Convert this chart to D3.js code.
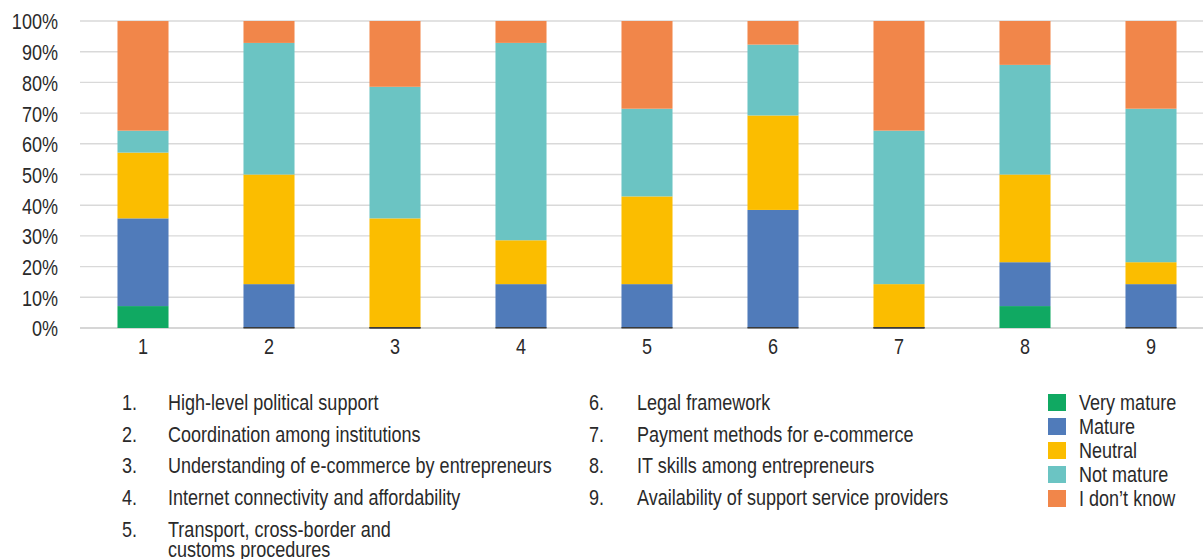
<!DOCTYPE html>
<html>
<head>
<meta charset="utf-8">
<script src="https://cdn.jsdelivr.net/npm/d3@7"></script>
<style>
  html, body { margin: 0; padding: 0; background: #fff; overflow: hidden; }
  svg { display: block; }
  text { font-family: "Liberation Sans", Arial, sans-serif; fill: #2a2a2a; }
</style>
</head>
<body>
<svg id="chart" width="1203" height="559"></svg>
<script>
// Survey pillars (x-axis categories, numbered)
const categories = ["1", "2", "3", "4", "5", "6", "7", "8", "9"];

// Share of responses (%) per maturity level, one value per pillar
const veryMature = [7.14, 0, 0, 0, 0, 0, 0, 7.14, 0];
const mature     = [28.57, 14.29, 0, 14.29, 14.29, 38.46, 0, 14.29, 14.29];
const neutral    = [21.43, 35.71, 35.71, 14.29, 28.57, 30.77, 14.29, 28.57, 7.14];
const notMature  = [7.14, 42.86, 42.86, 64.29, 28.57, 23.08, 50.0, 35.71, 50.0];
const dontKnow   = [35.71, 7.14, 21.43, 7.14, 28.57, 7.69, 35.71, 14.29, 28.57];

const seriesNames  = ["Very mature", "Mature", "Neutral", "Not mature", "I don\u2019t know"];
const seriesColors = ["#10a962", "#507bba", "#fbbd00", "#6bc4c3", "#f1864a"];

const yTicks = [0, 10, 20, 30, 40, 50, 60, 70, 80, 90, 100];

// Pillar descriptions listed below the chart
const pillarNumbers = ["1.", "2.", "3.", "4.", "5.", "6.", "7.", "8.", "9."];
const pillarLabels = [
  ["High-level political support"],
  ["Coordination among institutions"],
  ["Understanding of e-commerce by entrepreneurs"],
  ["Internet connectivity and affordability"],
  ["Transport, cross-border and", "customs procedures"],
  ["Legal framework"],
  ["Payment methods for e-commerce"],
  ["IT skills among entrepreneurs"],
  ["Availability of support service providers"]
];

// Horizontal squeeze giving the narrow typeface look
const NARROW = 0.82;
const FONT_SIZE = 22;

const seriesValues = [veryMature, mature, neutral, notMature, dontKnow];
const rows = categories.map((c, i) => {
  const r = { cat: c };
  seriesNames.forEach((s, k) => { r[s] = seriesValues[k][i]; });
  return r;
});

const svg = d3.select("#chart");
const plot = { left: 80, right: 1214, top: 21, bottom: 328 };

const x = d3.scaleBand()
  .domain(categories)
  .range([plot.left, plot.right])
  .paddingInner(0.595)
  .paddingOuter(0.2975);

const y = d3.scaleLinear().domain([0, 100]).range([plot.bottom, plot.top]);

const stacked = d3.stack().keys(seriesNames)(rows);

// Places a narrow text with its anchor point at (px, py)
function narrowText(parent, px, py, str, anchor) {
  return parent.append("text")
    .attr("transform", `translate(${px},${py}) scale(${NARROW},1)`)
    .attr("font-size", FONT_SIZE)
    .attr("text-anchor", anchor || "start")
    .text(str);
}

// Gridlines
svg.append("g")
  .selectAll("line")
  .data(yTicks)
  .join("line")
  .attr("x1", plot.left)
  .attr("x2", plot.right)
  .attr("y1", d => y(d))
  .attr("y2", d => y(d))
  .attr("stroke", d => d === 0 ? "#c9c9c9" : "#d9d9d9")
  .attr("stroke-width", 1.4);

// Y axis labels
const yAxis = d3.axisLeft(y)
  .tickValues(yTicks)
  .tickFormat(d => d + "%")
  .tickSize(0)
  .tickPadding(0);
const yg = svg.append("g")
  .attr("transform", `translate(${58},0)`)
  .call(yAxis);
yg.select(".domain").remove();
yg.selectAll("text")
  .attr("font-size", FONT_SIZE)
  .attr("font-family", null)
  .attr("x", 0)
  .attr("dy", "0.36em")
  .attr("transform", `scale(${NARROW},1)`);

// Stacked bars
const layers = svg.append("g")
  .selectAll("g")
  .data(stacked)
  .join("g")
  .attr("fill", (d, i) => seriesColors[i]);

layers.selectAll("rect")
  .data(d => d.filter(p => p[1] - p[0] > 0))
  .join("rect")
  .attr("x", d => x(d.data.cat))
  .attr("width", x.bandwidth())
  .attr("y", d => y(d[1]))
  .attr("height", d => y(d[0]) - y(d[1]));

// Empty segments resting on the baseline leave a thin dark edge
svg.append("g")
  .selectAll("line")
  .data(stacked.flatMap(s => s.filter(p => p[1] - p[0] === 0 && p[0] === 0)))
  .join("line")
  .attr("x1", d => x(d.data.cat))
  .attr("x2", d => x(d.data.cat) + x.bandwidth())
  .attr("y1", d => y(0) - 0.3)
  .attr("y2", d => y(0) - 0.3)
  .attr("stroke", "#3a3a3a")
  .attr("stroke-width", 1.5);

// X axis labels
const xAxis = d3.axisBottom(x).tickSize(0).tickPadding(0);
const xg = svg.append("g")
  .attr("transform", `translate(0,${plot.bottom})`)
  .call(xAxis);
xg.select(".domain").remove();
xg.selectAll("text")
  .attr("font-size", FONT_SIZE)
  .attr("font-family", null)
  .attr("dy", null)
  .attr("y", 0)
  .attr("transform", `translate(0,26) scale(${NARROW},1)`);

// Numbered pillar list, two columns
const listCols = [
  { numX: 122, textX: 168, items: [0, 1, 2, 3, 4] },
  { numX: 589, textX: 637, items: [5, 6, 7, 8] }
];
const listTop = 410, listStep = 31.7, wrapStep = 20.5;
const list = svg.append("g");
listCols.forEach(col => {
  col.items.forEach((idx, j) => {
    const base = listTop + j * listStep;
    narrowText(list, col.numX, base, pillarNumbers[idx]);
    pillarLabels[idx].forEach((line, li) => {
      narrowText(list, col.textX, base + li * wrapStep, line);
    });
  });
});

// Legend
const legend = svg.append("g")
  .attr("transform", "translate(1048,394)")
  .selectAll("g")
  .data(seriesNames)
  .join("g")
  .attr("transform", (d, i) => `translate(0,${i * 24})`);
legend.append("rect")
  .attr("width", 18)
  .attr("height", 17)
  .attr("fill", (d, i) => seriesColors[i]);
legend.each(function (d) {
  narrowText(d3.select(this), 31, 16, d);
});
</script>
</body>
</html>
